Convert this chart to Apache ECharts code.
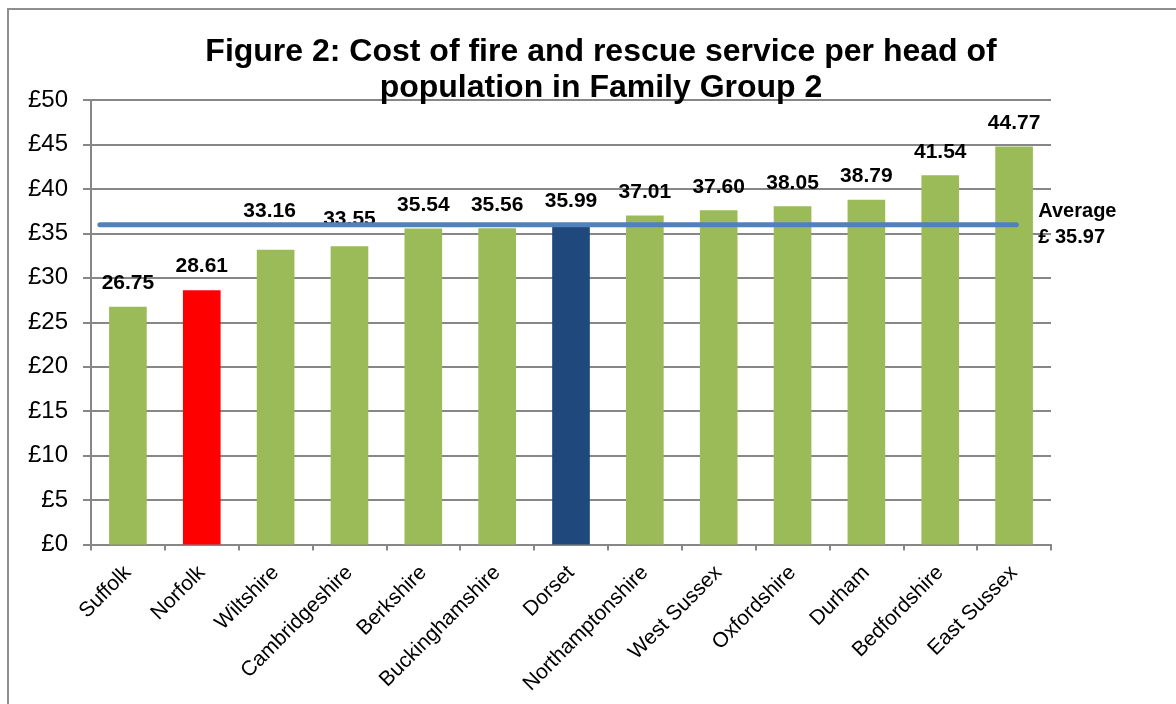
<!DOCTYPE html>
<html><head><meta charset="utf-8">
<script src="https://cdn.jsdelivr.net/npm/echarts@6/dist/echarts.min.js"></script>
<style>html,body{margin:0;padding:0;background:#fff}#c{width:1176px;height:704px}</style>
</head><body><div id="c"></div>
<script>
const categories = ['Suffolk','Norfolk','Wiltshire','Cambridgeshire','Berkshire','Buckinghamshire','Dorset','Northamptonshire','West Sussex','Oxfordshire','Durham','Bedfordshire','East Sussex'];
const values = [26.75, 28.61, 33.16, 33.55, 35.54, 35.56, 35.99, 37.01, 37.60, 38.05, 38.79, 41.54, 44.77];
const barColors = ['#9BBB59','#FF0000','#9BBB59','#9BBB59','#9BBB59','#9BBB59','#1F497D','#9BBB59','#9BBB59','#9BBB59','#9BBB59','#9BBB59','#9BBB59'];
const averageValue = 35.97;
const averageSpan = [-0.38, 12.03];
const yTicks = [0, 5, 10, 15, 20, 25, 30, 35, 40, 45, 50];

const labelTweaks = { 2: { distance: 28, offset: [-6, 0] }, 3: { distance: 17 } };

const chart = echarts.init(document.getElementById('c'));
const gray = '#878787';
const font = 'Liberation Sans, Arial';
chart.setOption({
  animation: false,
  graphic: [{ type: 'rect', shape: { x: 8, y: 9, width: 1300, height: 800 }, style: { fill: 'none', stroke: '#8e8e8e', lineWidth: 2 }, silent: true }],
  title: {
    text: 'Figure 2: Cost of fire and rescue service per head of\npopulation in Family Group 2',
    left: 596, top: 29, textAlign: 'center',
    textStyle: { fontFamily: font, fontWeight: 'bold', fontSize: 32, lineHeight: 36, color: '#000' }
  },
  grid: { left: 91, right: 125, top: 100, bottom: 159.5, containLabel: false },
  xAxis: [{
    type: 'category', data: categories,
    axisLine: { lineStyle: { color: gray, width: 2 } },
    axisTick: { show: true, length: 6, lineStyle: { color: gray, width: 2 } },
    axisLabel: { rotate: 45, interval: 0, margin: 25, fontFamily: font, fontSize: 21, color: '#000' }
  }, {
    type: 'value', min: -0.5, max: 12.5, show: false
  }],
  yAxis: {
    type: 'value', min: yTicks[0], max: yTicks[yTicks.length - 1], interval: 5,
    axisLine: { show: true, onZero: false, lineStyle: { color: gray, width: 2 } },
    axisTick: { show: true, length: 8, lineStyle: { color: gray, width: 2 } },
    splitLine: { lineStyle: { color: gray, width: 2 } },
    axisLabel: { margin: 23, fontFamily: font, fontSize: 24, color: '#000', formatter: v => '£' + v }
  },
  series: [{
    type: 'bar', xAxisIndex: 0,
    data: values.map((v, i) => {
      const d = { value: v, itemStyle: { color: barColors[i] } };
      if (labelTweaks[i]) d.label = labelTweaks[i];
      return d;
    }),
    barWidth: '51%',
    label: { show: true, position: 'top', distance: 13, fontFamily: font, fontWeight: 'bold', fontSize: 21, color: '#000', formatter: p => p.value.toFixed(2) }
  }, {
    type: 'line', xAxisIndex: 1, symbol: 'none',
    data: averageSpan.map(x => [x, averageValue]),
    lineStyle: { color: '#4F81BD', width: 5, cap: 'round' },
    endLabel: { show: true, distance: 22, align: 'left', fontFamily: font, fontWeight: 'bold', fontSize: 20, lineHeight: 26, color: '#000', formatter: () => 'Average\n£ ' + averageValue.toFixed(2) },
    z: 5
  }]
});
</script></body></html>
